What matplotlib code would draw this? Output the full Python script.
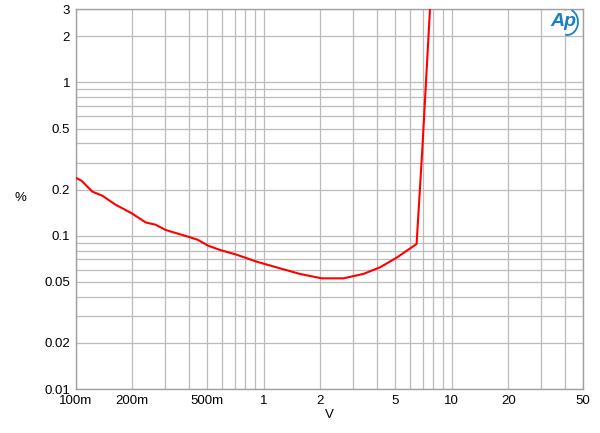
import matplotlib
matplotlib.use("Agg")
import matplotlib.pyplot as plt
from matplotlib.patches import Arc
from matplotlib.ticker import FixedLocator, LogLocator, NullFormatter

# THD+N vs output level
volts = [0.1, 0.1076, 0.1225, 0.139, 0.162, 0.1986, 0.236, 0.266, 0.301, 0.397,
         0.445, 0.507, 0.586, 0.718, 0.918, 1.17, 1.56, 2.04, 2.65, 3.39,
         4.16, 5.10, 6.51, 6.98, 7.67, 8.0]
thd_pct = [0.239, 0.228, 0.194, 0.182, 0.160, 0.140, 0.122, 0.118, 0.109, 0.0985,
           0.0942, 0.0861, 0.0807, 0.0752, 0.0677, 0.0622, 0.0563, 0.0527, 0.0527, 0.0563,
           0.0622, 0.0719, 0.0883, 0.362, 3.0, 5.0]

x_ticks = [0.1, 0.2, 0.5, 1, 2, 5, 10, 20, 50]
x_labels = ["100m", "200m", "500m", "1", "2", "5", "10", "20", "50"]
y_ticks = [0.01, 0.02, 0.05, 0.1, 0.2, 0.5, 1, 2, 3]
y_labels = ["0.01", "0.02", "0.05", "0.1", "0.2", "0.5", "1", "2", "3"]

plt.rcParams["font.family"] = ["Liberation Sans", "DejaVu Sans"]

fig = plt.figure(figsize=(6.0, 4.33), dpi=100)
ax = fig.add_axes([75.7 / 600, 1 - 389 / 433, (583 - 75.7) / 600, (389 - 9.3) / 433])

ax.plot(volts, thd_pct, color="#ff0000", lw=1.5, zorder=3)
ax.set_xscale("log")
ax.set_yscale("log")
ax.set_xlim(0.1, 50)
ax.set_ylim(0.01, 3)

ax.xaxis.set_major_locator(FixedLocator(x_ticks))
ax.set_xticklabels(x_labels)
ax.yaxis.set_major_locator(FixedLocator(y_ticks))
ax.set_yticklabels(y_labels)
for axis in (ax.xaxis, ax.yaxis):
    axis.set_minor_locator(LogLocator(base=10, subs=range(1, 10), numticks=20))
    axis.set_minor_formatter(NullFormatter())

ax.grid(True, which="both", color="#bcbcbc", lw=0.9)
ax.tick_params(which="both", length=0, labelsize=9.5, pad=4)
for s in ax.spines.values():
    s.set_color("#a0a0a0")
    s.set_linewidth(1.0)

fig.text(20 / 600, 1 - 198 / 433, "%", fontsize=9.5, ha="center", va="center")
fig.text(329 / 600, 1 - 415 / 433, "V", fontsize=9.5, ha="center", va="center")

# Audio Precision logo
fig.text(563 / 600, 1 - 22 / 433, "Ap", fontsize=14, color="#1a7fc4",
         style="italic", weight="bold", ha="center", va="center", zorder=5,
         bbox=dict(fc="white", ec="none", pad=2))
arc = Arc((567 / 600, 1 - 22 / 433), 22 / 600, 26 / 433, theta1=-95, theta2=75,
          transform=fig.transFigure, color="#1a7fc4", lw=1.3, zorder=10)
fig.add_artist(arc)

fig.savefig("out.png", dpi=100)
